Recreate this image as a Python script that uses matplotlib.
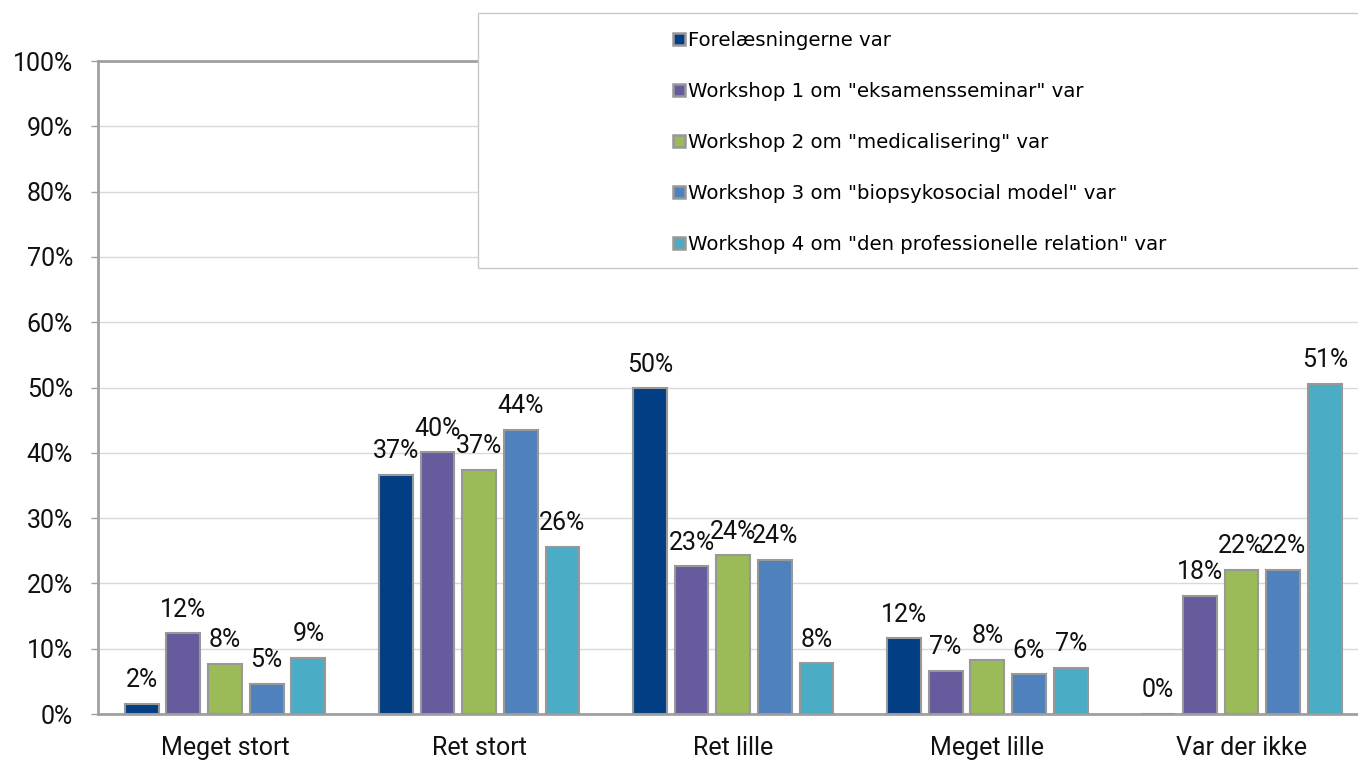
import matplotlib
matplotlib.use("Agg")
import matplotlib.pyplot as plt
from matplotlib.patches import Patch, Rectangle
import numpy as np

categories = ["Meget stort", "Ret stort", "Ret lille", "Meget lille", "Var der ikke"]
series_names = [
    "Forelæsningerne var",
    'Workshop 1 om "eksamensseminar" var',
    'Workshop 2 om "medicalisering" var',
    'Workshop 3 om "biopsykosocial model" var',
    'Workshop 4 om "den professionelle relation" var',
]
forelaesninger = [0.016, 0.366, 0.499, 0.116, 0.0]
workshop1 = [0.124, 0.401, 0.226, 0.066, 0.181]
workshop2 = [0.077, 0.374, 0.243, 0.083, 0.221]
workshop3 = [0.046, 0.435, 0.236, 0.061, 0.221]
workshop4 = [0.086, 0.256, 0.078, 0.071, 0.506]
series = [forelaesninger, workshop1, workshop2, workshop3, workshop4]
colors = ["#023E84", "#675B9E", "#9BBB59", "#4F81BD", "#4BACC6"]
yticks = [0, 0.1, 0.2, 0.3, 0.4, 0.5, 0.6, 0.7, 0.8, 0.9, 1.0]
ytick_labels = ["0%", "10%", "20%", "30%", "40%", "50%", "60%", "70%", "80%", "90%", "100%"]

W, H = 1358, 760
plt.rcParams['font.family'] = ['Roboto', 'DejaVu Sans']
fig = plt.figure(figsize=(W / 100, H / 100), dpi=100)

ax_left, ax_bottom = 98 / W, (H - 714) / H
ax_w, ax_h = 5 * 254.1 / W, (714 - 61) / H
ax = fig.add_axes([ax_left, ax_bottom, ax_w, ax_h])

x = np.arange(len(categories))
step = 0.164
bw = 0.133
spine_col = "#A0A0A0"
for i, (vals, col) in enumerate(zip(series, colors)):
    pos = x + (i - 2) * step
    ax.bar(pos, vals, width=bw, color=col, edgecolor="#989898", linewidth=1.5, zorder=3)
    for xb, v in zip(pos, vals):
        ax.annotate(f"{v*100:.0f}%", (xb, v), xytext=(0, 8.3), textcoords="offset points",
                    ha="center", va="bottom", fontsize=18, color="#111111", zorder=4)

ax.set_xlim(-0.5, 4.5)
ax.set_ylim(0, 1.0)
ax.set_yticks(yticks)
ax.set_yticklabels(ytick_labels, fontsize=18, color="#111111")
ax.set_xticks(x)
ax.set_xticklabels(categories, fontsize=18, color="#111111")
ax.tick_params(axis="x", length=0, pad=16)
ax.tick_params(axis="y", length=5, width=1, color=spine_col, pad=13)
ax.grid(axis="y", color="#D9D9D9", linewidth=1, zorder=0)
ax.set_axisbelow(True)
for s in ax.spines.values():
    s.set_color(spine_col)
    s.set_linewidth(2)

# legend box
rect = Rectangle((478 / W, 1 - 268 / H), 1.0, (268 - 13) / H, transform=fig.transFigure,
                 facecolor="white", edgecolor="#C8C8C8", linewidth=1, zorder=5)
fig.patches.append(rect)
handles = [Patch(facecolor=c, edgecolor="#989898", linewidth=1.8) for c in colors]
leg = fig.legend(handles, series_names, loc="upper left", bbox_to_anchor=(673 / W, 1 - 31 / H),
                 frameon=False, borderpad=0, borderaxespad=0,
                 prop={'family': 'DejaVu Sans', 'size': 14.2},
                 handlelength=0.6, handleheight=0.6, handletextpad=0.17, labelspacing=1.62)
leg.set_zorder(6)

fig.savefig("out.png", dpi=100)
